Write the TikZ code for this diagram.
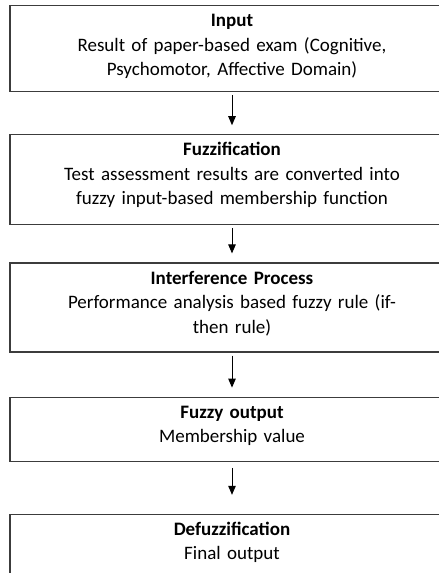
\documentclass[tikz,border=0pt]{standalone}
\usepackage{fontspec}
\setmainfont{Carlito}
\usetikzlibrary{positioning, arrows.meta}
\definecolor{boxline}{RGB}{60, 60, 60}

\begin{document}
\begin{tikzpicture}[
  node distance=40pt,
  stage/.style={rectangle, draw=boxline, line width=1.2pt, inner xsep=0pt, inner ysep=0pt, text width=444pt, align=center, text height=21pt, font=\fontsize{19}{24.5}\selectfont},
  arrow/.style={-{Triangle[length=9pt, width=7.5pt]}, line width=1pt, shorten <=3pt, shorten >=9pt}
]
\useasboundingbox (0,0) rectangle (439pt,-573pt);

% Stages
\node[stage, text depth=65pt, anchor=north] (input) at (232pt,-5pt) {\textbf{Input}\\ Result of paper-based exam (Cognitive,\\ Psychomotor, Affective Domain)};
\node[stage, text depth=69pt] (fuzz) [below=42pt of input] {\textbf{Fuzzification}\\ Test assessment results are converted into\\ fuzzy input-based membership function};
\node[stage, text depth=68pt] (infer) [below=37pt of fuzz] {\textbf{Interference Process}\\ Performance analysis based fuzzy rule (if-\\ then rule)};
\node[stage, text depth=43pt] (fout) [below=44pt of infer] {\textbf{Fuzzy output}\\ Membership value};
\node[stage, text depth=42pt] (defuzz) [below=52pt of fout] {\textbf{Defuzzification}\\ Final output};

% Arrows
\draw[arrow] (input) -- (fuzz);
\draw[arrow] (fuzz) -- (infer);
\draw[arrow] (infer) -- (fout);
\draw[arrow, shorten <=6pt, shorten >=19pt] (fout) -- (defuzz);

\end{tikzpicture}
\end{document}
